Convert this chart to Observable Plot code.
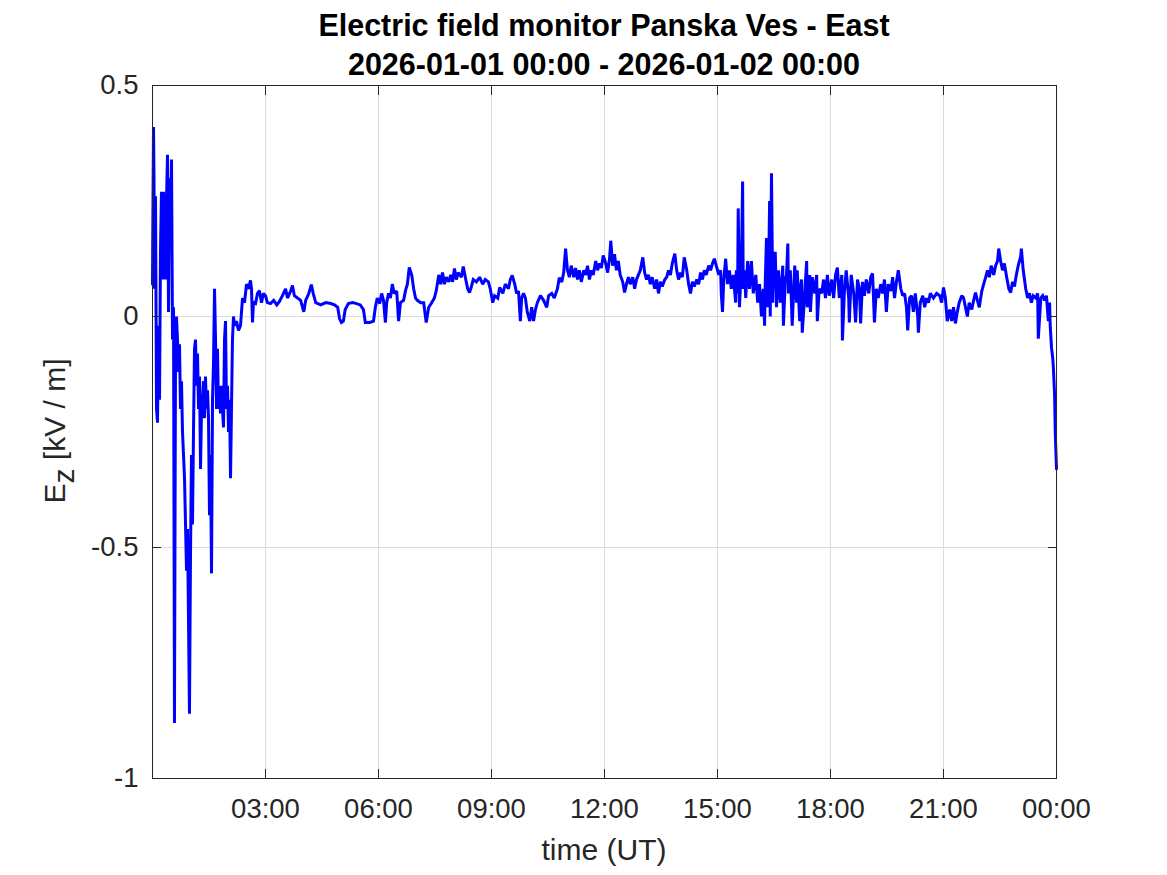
<!DOCTYPE html>
<html>
<head>
<meta charset="utf-8">
<script src="https://cdn.jsdelivr.net/npm/d3@7"></script>
<script src="https://cdn.jsdelivr.net/npm/@observablehq/plot@0.6"></script>
<style>
  body { margin: 0; background: #fff; }
  #page { position: relative; width: 1167px; height: 875px; overflow: hidden; font-family: "Liberation Sans", Arial, sans-serif; }
  #chart { position: absolute; left: 0; top: 70px; z-index: 1; }
  .title { position: absolute; z-index: 2; left: 0; width: 1208px; text-align: center; font-weight: bold; font-size: 30.5px; line-height: 36px; color: #000; white-space: nowrap; }
  .xlabel { position: absolute; z-index: 2; left: 0; width: 1208px; text-align: center; font-size: 30px; line-height: 36px; color: #262626; white-space: nowrap; }
  .ylabel { position: absolute; z-index: 2; left: 55px; top: 431px; transform: translate(-50%, -50%) rotate(-90deg); font-size: 30px; line-height: 36px; color: #262626; white-space: nowrap; }
  .ylabel sub { font-size: 30px; vertical-align: -9px; line-height: 0; }
</style>
</head>
<body>
<div id="page">
  <div id="chart"></div>
  <div class="title" style="top:7px">Electric field monitor Panska Ves - East</div>
  <div class="title" style="top:46px">2026-01-01 00:00 - 2026-01-02 00:00</div>
  <div class="xlabel" style="top:832px">time (UT)</div>
  <div class="ylabel">E<sub>z</sub> [kV / m]</div>
</div>
<script>
// Tick positions (minutes after 2026-01-01 00:00 UT) and y ticks (kV/m)
const xTickMinutes = [180, 360, 540, 720, 900, 1080, 1260, 1440];
const yTickValues = [-1, -0.5, 0, 0.5];

// Samples [minutes after 00:00 UT, Ez in kV/m], in blocks
const samples00 = [
  [0,0.07],[0.8,0.25],[1.6,0.41],[2.4,0.3],[3.2,0.06],[4.8,0.26],[6.4,-0.2],[8.0,-0.23],[9.6,-0.02],[11.2,-0.18],
  [12.7,0.14],[14.3,0.27],[15.9,0.08],[17.5,0.27],[19.1,0.24],[20.7,0.08],[22.3,0.25],[23.9,0.35],[25.5,0.01],[27.1,0.3],
  [28.7,0.2],[30.3,0.34],[31.9,-0.05],[33.5,0.02],[35.0,-0.88],[36.6,-0.1],[38.2,0.0],[39.8,-0.05],[41.4,-0.12],[43.0,-0.06],
  [44.6,-0.2],[46.2,-0.14],[47.8,-0.25],[49.4,-0.3],[51.0,-0.35],[52.6,-0.45],[54.2,-0.55],[55.8,-0.46],[57.3,-0.65],[58.9,-0.86],
  [60.5,-0.52],[62.1,-0.3],[63.7,-0.45],[65.3,-0.25],[66.9,-0.07],[68.5,-0.05],[70.1,-0.15],[71.7,-0.08],[73.3,-0.2],[74.9,-0.13],
  [76.5,-0.33],[78.1,-0.2],[79.7,-0.18],[81.2,-0.14],[82.8,-0.22],[84.4,-0.13],[86.0,-0.2],[87.6,-0.16],[89.2,-0.22],[90.8,-0.43],
  [92.4,-0.3],[94.0,-0.556],[95.6,-0.18],[97.2,-0.1],[98.8,0.06],[100.4,-0.05],[102.0,-0.2],[103.5,-0.07],[105.1,-0.2],[106.7,-0.15],
  [108.3,-0.21],[109.9,-0.15],[111.5,-0.2],[113.1,-0.24],[114.7,-0.05],[116.3,-0.01],[117.9,-0.2],[119.5,-0.15],[121.1,-0.25],[122.7,-0.18],
  [124.3,-0.35],[125.8,-0.2],[127.4,-0.05],[129.0,0.0],[130.6,-0.02],[133.8,-0.01],[137.0,-0.03],[140.2,-0.02],[141.8,0.01],[143.4,0.04],
  [146.6,0.03],[149.7,0.07],[152.9,0.06],[156.1,0.078],[157.7,0.06],[159.3,-0.013],[160.9,0.03],[164.1,0.028],[167.3,0.05],[170.4,0.056],
  [173.6,0.03],[176.8,0.05]
];
const samples03 = [
  [180,0.045],[183,0.03],[188,0.028],[193,0.035],[198,0.025],[202,0.032],[207,0.045],[212,0.06],[215,0.04],[220,0.055],
  [223,0.067],[226,0.045],[231,0.04],[236,0.035],[241,0.01],[244,0.035],[249,0.05],[253,0.069],[256,0.05],[260,0.03],
  [268,0.025],[276,0.03],[284,0.028],[290,0.025],[295,0.02],[298,-0.005],[301,-0.013],[304,-0.01],[307,0.015],[312,0.028],
  [319,0.03],[325,0.028],[331,0.025],[336,0.015],[339,-0.013],[346,-0.013],[352,-0.01],[355,0.02],[358,0.04]
];
const samples06 = [
  [362,0.028],[365,0.05],[368,0.035],[371,-0.013],[373,0.03],[376,0.05],[379,0.04],[382,0.07],[385,0.05],[389,0.055],
  [392,-0.01],[395,0.03],[400,0.035],[403,0.056],[406,0.07],[409,0.106],[413,0.089],[416,0.06],[419,0.04],[422,0.035],
  [427,0.03],[432,0.03],[436,-0.013],[440,0.02],[444,0.028],[449,0.04],[452,0.056],[456,0.09],[459,0.07],[462,0.095],
  [465,0.07],[468,0.085],[472,0.075],[475,0.09],[478,0.075],[481,0.104],[484,0.08],[487,0.095],[492,0.085],[495,0.108],
  [499,0.08],[502,0.06],[505,0.052],[508,0.065],[511,0.08],[516,0.075],[521,0.085],[526,0.07],[530,0.08],[535,0.075],
  [538,0.06]
];
const samples09 = [
  [542,0.03],[545,0.045],[550,0.04],[553,0.063],[558,0.05],[562,0.07],[567,0.06],[570,0.08],[573,0.089],[577,0.07],
  [580,0.05],[583,0.055],[586,-0.01],[588,0.04],[591,0.05],[594,0.04],[597,0.01],[601,-0.01],[604,0.02],[607,-0.01],
  [610,0.015],[613,0.03],[618,0.045],[623,0.035],[628,0.02],[631,0.045],[636,0.05],[640,0.04],[645,0.06],[648,0.084],
  [652,0.075],[655,0.095],[658,0.147],[661,0.1],[664,0.085],[667,0.11],[671,0.085],[674,0.105],[677,0.08],[680,0.1],
  [683,0.075],[687,0.1],[690,0.09],[693,0.11],[696,0.08],[699,0.1],[702,0.09],[706,0.12],[709,0.1],[712,0.115],
  [715,0.105],[718,0.132]
];
const samples12 = [
  [722,0.115],[725,0.095],[728,0.125],[730,0.164],[733,0.11],[736,0.135],[739,0.1],[742,0.12],[745,0.09],[749,0.075],
  [752,0.052],[755,0.07],[758,0.085],[761,0.07],[765,0.085],[768,0.06],[771,0.08],[774,0.09],[777,0.1],[781,0.128],
  [784,0.095],[787,0.08],[790,0.09],[793,0.07],[796,0.085],[800,0.06],[803,0.08],[806,0.05],[809,0.075],[812,0.065],
  [816,0.08],[819,0.085],[822,0.1],[825,0.09],[828,0.115],[832,0.136],[835,0.1],[838,0.08],[841,0.095],[844,0.085],
  [847,0.128],[851,0.1],[854,0.07],[857,0.05],[860,0.075],[863,0.065],[867,0.08],[870,0.07],[873,0.095],[876,0.08],
  [879,0.1],[882,0.09],[886,0.11],[889,0.1],[892,0.115],[895,0.125],[898,0.11]
];
const samples15 = [
  [902,0.09],[905,0.1],[906,0.05],[908,0.01],[910,0.08],[913,0.125],[916,0.07],[919,0.1],[922,0.06],[925,0.09],
  [929,0.03],[930,0.1],[932,0.05],[933,0.234],[935,0.02],[937,0.08],[938,0.1],[940,0.292],[941,0.06],[943,0.1],
  [945,0.04],[948,0.12],[951,0.06],[954,0.12],[957,0.05],[961,0.09],[964,0.03],[967,0.07],[970,0.0],[973,0.06],
  [975,-0.02],[976,0.07],[978,0.17],[980,0.02],[981,0.05],[983,0.25],[984,0.0],[986,0.31],[988,0.03],[989,0.12],
  [991,0.06],[992,0.14],[994,0.02],[997,0.1],[1000,0.03],[1004,0.11],[1005,-0.02],[1008,0.08],[1010,0.09],[1012,0.158],
  [1013,0.05],[1016,0.1],[1019,-0.02],[1023,0.11],[1026,0.03],[1027,0.1],[1031,-0.01],[1032,0.06],[1034,0.08],[1035,-0.035],
  [1039,0.05],[1042,0.12],[1043,0.02],[1047,0.09],[1048,0.01],[1051,0.085],[1055,0.05],[1058,0.09],[1059,-0.01],[1062,0.06],
  [1066,0.05],[1069,0.08],[1072,0.04],[1075,0.09],[1078,0.045]
];
const samples18 = [
  [1082,0.08],[1085,0.04],[1088,0.09],[1091,0.106],[1094,0.04],[1098,0.09],[1099,-0.052],[1102,0.05],[1105,0.1],[1109,0.04],
  [1110,-0.013],[1113,0.09],[1117,0.05],[1120,-0.013],[1123,0.08],[1126,0.06],[1128,-0.015],[1131,0.075],[1134,0.045],[1137,0.08],
  [1141,0.05],[1144,0.085],[1147,0.093],[1150,-0.013],[1153,0.06],[1156,0.04],[1160,0.07],[1163,0.05],[1166,0.08],[1169,0.01],
  [1172,0.07],[1176,0.055],[1179,0.085],[1182,0.04],[1185,0.075],[1188,0.1],[1192,0.06],[1195,0.045],[1198,0.05],[1201,0.02],
  [1203,-0.03],[1206,0.04],[1209,0.045],[1212,0.01],[1215,0.05],[1219,0.0],[1220,-0.035],[1223,0.03],[1227,0.045],[1230,0.02],
  [1233,0.04],[1236,0.03],[1239,0.05],[1244,0.04],[1249,0.05],[1254,0.045],[1257,0.03]
];
const samples21 = [
  [1260,0.063],[1263,0.04],[1266,-0.01],[1270,0.015],[1273,-0.01],[1276,0.02],[1279,-0.015],[1282,0.01],[1285,0.03],[1289,0.045],
  [1292,0.04],[1295,0.02],[1298,0.0],[1301,0.03],[1305,0.015],[1308,0.035],[1311,0.052],[1314,0.035],[1317,0.02],[1321,0.055],
  [1324,0.07],[1327,0.084],[1330,0.1],[1333,0.085],[1336,0.11],[1340,0.09],[1343,0.11],[1346,0.12],[1348,0.147],[1351,0.12],
  [1354,0.1],[1357,0.115],[1360,0.09],[1364,0.06],[1367,0.052],[1370,0.075],[1373,0.065],[1376,0.09],[1379,0.11],[1383,0.13],
  [1384,0.147],[1387,0.1],[1391,0.06],[1394,0.04],[1397,0.05],[1400,0.03],[1403,0.045],[1407,0.04],[1410,0.05],[1411,-0.048],
  [1415,0.04],[1418,0.045],[1421,0.035],[1424,0.045],[1427,-0.01],[1429,0.03],[1430,-0.02],[1432,-0.067],[1434,-0.09],[1435,-0.11],
  [1437,-0.17],[1438,-0.25],[1440,-0.33]
];

const data = [...samples00, ...samples03, ...samples06, ...samples09, ...samples12, ...samples15, ...samples18, ...samples21]
  .map(([t, v]) => ({t, v}));

const fmtTime = (m) => String(Math.floor(m / 60) % 24).padStart(2, "0") + ":" + String(m % 60).padStart(2, "0");
const fmtY = (d) => (d === 0 ? "0" : String(d));
const empty = () => "";

const chart = Plot.plot({
  width: 1167,
  height: 805,
  marginLeft: 152,
  marginRight: 111,
  marginTop: 15,
  marginBottom: 97,
  style: {fontFamily: "'Liberation Sans', Arial, sans-serif", fontSize: "27.5px", color: "#262626", background: "transparent", overflow: "visible"},
  x: {type: "linear", domain: [0, 1440]},
  y: {type: "linear", domain: [-1, 0.5]},
  marks: [
    Plot.gridX(xTickMinutes, {stroke: "#dcdcdc", strokeOpacity: 1, strokeWidth: 1}),
    Plot.gridY(yTickValues, {stroke: "#dcdcdc", strokeOpacity: 1, strokeWidth: 1}),
    Plot.line(data, {x: "t", y: "v", stroke: "#0000ff", strokeWidth: 3, strokeLinejoin: "miter", strokeMiterlimit: 2}),
    Plot.frame({stroke: "#262626", strokeWidth: 1}),
    Plot.axisX({ticks: xTickMinutes, anchor: "bottom", tickSize: 0, tickPadding: 20, tickFormat: fmtTime, fontSize: 27.5, label: null}),
    Plot.axisX({ticks: xTickMinutes, anchor: "bottom", tickSize: -9, tickFormat: empty, label: null, stroke: "#262626"}),
    Plot.axisX({ticks: xTickMinutes, anchor: "top", tickSize: -9, tickFormat: empty, label: null, stroke: "#262626"}),
    Plot.axisY({ticks: yTickValues, anchor: "left", tickSize: 0, tickPadding: 14, tickFormat: fmtY, fontSize: 27.5, label: null}),
    Plot.axisY({ticks: yTickValues, anchor: "left", tickSize: -9, tickFormat: empty, label: null, stroke: "#262626"}),
    Plot.axisY({ticks: yTickValues, anchor: "right", tickSize: -9, tickFormat: empty, label: null, stroke: "#262626"})
  ]
});
document.getElementById("chart").appendChild(chart);
</script>
</body>
</html>
